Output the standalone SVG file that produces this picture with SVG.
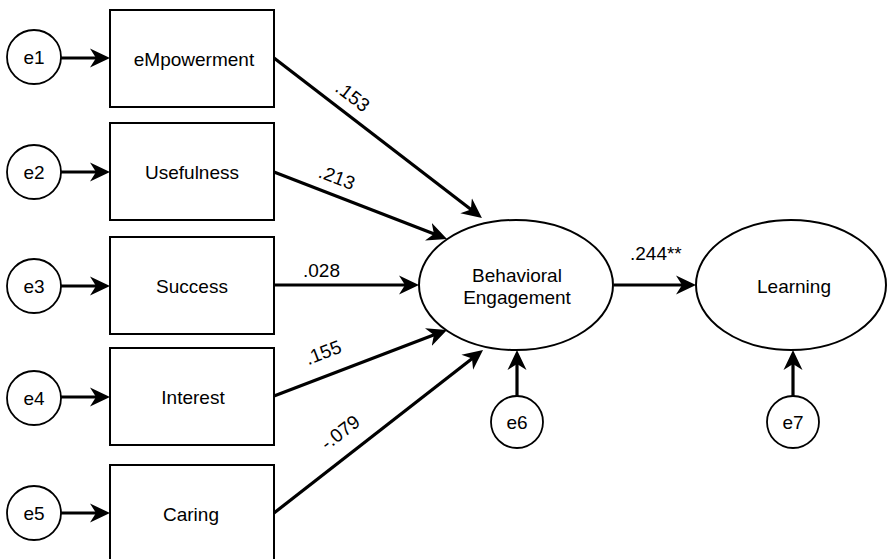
<svg xmlns="http://www.w3.org/2000/svg" width="888" height="559" viewBox="0 0 888 559">
<defs>
<marker id="ah" markerUnits="userSpaceOnUse" markerWidth="20" markerHeight="20" viewBox="0 0 20 20" refX="14" refY="10" orient="auto">
<path d="M0,0.5 L20,10 L0,19.5 L6,10 Z" fill="#000"/>
</marker>
<style>
text{font-family:"Liberation Sans",Arial,sans-serif;font-size:19px;fill:#000}
.box{fill:#fff;stroke:#000;stroke-width:2}
.err{fill:#fff;stroke:#000;stroke-width:1.8}
.lat{fill:#fff;stroke:#000;stroke-width:2}
.c{text-anchor:middle}
.edge{stroke:#000;stroke-width:3.2;fill:none;marker-end:url(#ah)}
</style>
</defs>
<rect width="888" height="559" fill="#fff"/>
<g id="connectors">
<line class="edge" x1="61" y1="58" x2="104" y2="58"/>
<line class="edge" x1="61" y1="172" x2="104" y2="172"/>
<line class="edge" x1="61" y1="286" x2="104" y2="286"/>
<line class="edge" x1="61" y1="397" x2="104" y2="397"/>
<line class="edge" x1="61" y1="513" x2="104" y2="513"/>
<line class="edge" x1="274" y1="58" x2="477.2" y2="214.3"/>
<line class="edge" x1="274" y1="172" x2="441.4" y2="236.8"/>
<line class="edge" x1="274" y1="285" x2="413" y2="285"/>
<line class="edge" x1="274" y1="396" x2="441.4" y2="332.1"/>
<line class="edge" x1="274" y1="513" x2="478.3" y2="353.7"/>
<line class="edge" x1="517" y1="396" x2="517" y2="356"/>
<line class="edge" x1="793" y1="396" x2="793" y2="356"/>
<line class="edge" x1="614" y1="285" x2="690" y2="285"/>
<text transform="translate(353,96) rotate(37.6)" class="c" y="7">.153</text>
<text transform="translate(337,177) rotate(21)" class="c" y="7">.213</text>
<text x="303" y="277">.028</text>
<text transform="translate(323,352) rotate(-21)" class="c" y="7">.155</text>
<text transform="translate(340,432) rotate(-37.5)" class="c" y="7">-.079</text>
<text x="630" y="260">.244**</text>
</g>
<g id="e1"><circle class="err" cx="34" cy="57" r="27"/><text class="c" x="34" y="64">e1</text></g>
<g id="e2"><circle class="err" cx="34" cy="172" r="27"/><text class="c" x="34" y="179">e2</text></g>
<g id="e3"><circle class="err" cx="34" cy="286" r="27"/><text class="c" x="34" y="293">e3</text></g>
<g id="e4"><circle class="err" cx="34" cy="398" r="27"/><text class="c" x="34" y="405">e4</text></g>
<g id="e5"><circle class="err" cx="34" cy="513" r="27"/><text class="c" x="34" y="520">e5</text></g>
<g id="empowerment"><rect class="box" x="110" y="10" width="164" height="97"/><text class="c" x="194" y="66">eMpowerment</text></g>
<g id="usefulness"><rect class="box" x="110" y="123" width="164" height="97"/><text class="c" x="192" y="179">Usefulness</text></g>
<g id="success"><rect class="box" x="110" y="237" width="164" height="97"/><text class="c" x="192" y="293">Success</text></g>
<g id="interest"><rect class="box" x="110" y="348" width="164" height="97"/><text class="c" x="193" y="404">Interest</text></g>
<g id="caring"><rect class="box" x="110" y="465" width="164" height="97"/><text class="c" x="191" y="521">Caring</text></g>
<g id="behavioral-engagement"><ellipse class="lat" cx="516" cy="285" rx="97" ry="65"/><text class="c" x="517" y="282">Behavioral</text><text class="c" x="517" y="304">Engagement</text></g>
<g id="learning"><ellipse class="lat" cx="791" cy="285" rx="95" ry="65"/><text class="c" x="794" y="293">Learning</text></g>
<g id="e6"><circle class="err" cx="517" cy="422" r="26"/><text class="c" x="517" y="429">e6</text></g>
<g id="e7"><circle class="err" cx="793" cy="422" r="26"/><text class="c" x="793" y="429">e7</text></g>
</svg>
